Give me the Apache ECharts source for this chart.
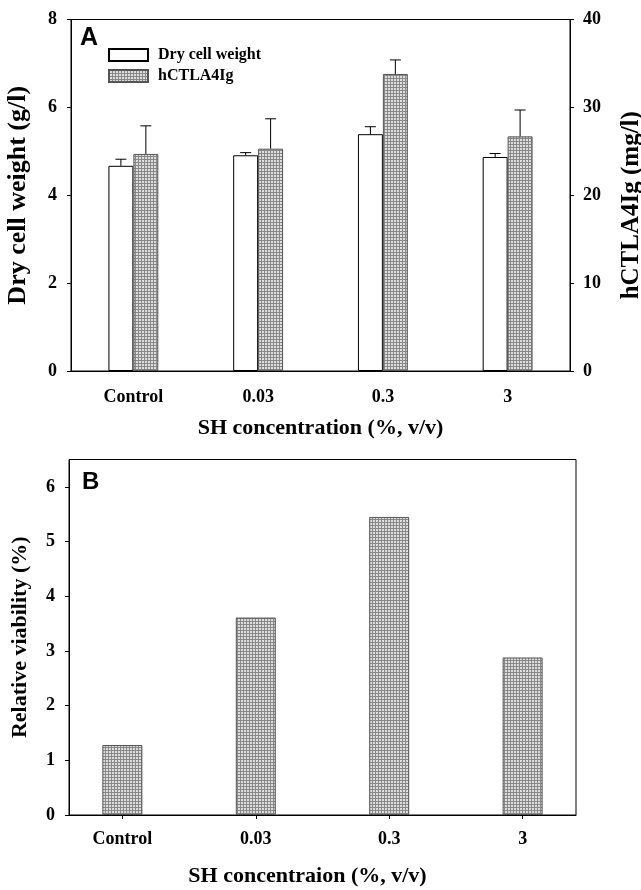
<!DOCTYPE html>
<html><head><meta charset="utf-8">
<script src="https://cdn.jsdelivr.net/npm/echarts@6/dist/echarts.min.js"></script>
<style>html,body{margin:0;padding:0;background:#fff}#c{width:641px;height:890px}</style>
</head><body><div id="c"></div>
<script>
// ---- data ----
const categories = ['Control', '0.03', '0.3', '3'];
const dryCellWeight = [4.67, 4.91, 5.39, 4.87];          // g/l
const dryCellWeightErr = [0.15, 0.06, 0.17, 0.08];
const hCTLA4Ig = [24.7, 25.3, 33.8, 26.7];                // mg/l
const hCTLA4IgErr = [3.2, 3.4, 1.6, 3.0];
const relativeViability = [1.28, 3.61, 5.45, 2.88];       // %
const viabilityTicks = [0, 1, 2, 3, 4, 5, 6];

// ---- styles ----
const SERIF = '"Liberation Serif","DejaVu Serif",serif';
function makePattern() {
  const c = document.createElement('canvas'); c.width = 3; c.height = 3;
  const g = c.getContext('2d');
  g.fillStyle = '#dedede'; g.fillRect(0, 0, 3, 3);
  g.fillStyle = '#888888'; g.fillRect(0, 0, 3, 1); g.fillRect(0, 0, 1, 3);
  return c;
}
const hatch = { image: makePattern(), repeat: 'repeat' };
const lbl = { color: '#000', fontFamily: SERIF, fontWeight: 'bold', fontSize: 18 };
const nameStyle = { color: '#000', fontFamily: SERIF, fontWeight: 'bold', fontSize: 22 };
const blackLine = { color: '#000', width: 1 };

function errRender(side) {
  return function (params, api) {
    const x = api.value(0), v = api.value(1), e = api.value(2);
    const band = api.size([1, 0])[0];
    const p0 = api.coord([x, v]);
    const p1 = api.coord([x, v + e]);
    const cx = p0[0] + side * band * 0.1;
    return {
      type: 'group',
      children: [
        { type: 'line', shape: { x1: cx, y1: p0[1], x2: cx, y2: p1[1] }, style: { stroke: '#000', lineWidth: 1 } },
        { type: 'line', shape: { x1: cx - 5.5, y1: p1[1], x2: cx + 5.5, y2: p1[1] }, style: { stroke: '#000', lineWidth: 1 } }
      ]
    };
  };
}

const chart = echarts.init(document.getElementById('c'), null, { renderer: 'canvas' });
chart.setOption({
  animation: false,
  backgroundColor: '#fff',
  textStyle: { fontFamily: SERIF },
  grid: [
    { left: 71, right: 71, top: 19.5, height: 351.5, outerBoundsMode: 'none', containLabel: false,
      show: true, borderColor: '#000', borderWidth: 1, backgroundColor: 'transparent' },
    { left: 69, right: 65, top: 459.5, height: 355.5, outerBoundsMode: 'none', containLabel: false,
      show: true, borderColor: '#000', borderWidth: 1, backgroundColor: 'transparent' }
  ],
  legend: {
    data: ['Dry cell weight', 'hCTLA4Ig'],
    orient: 'vertical', left: 108, top: 47, padding: 0, icon: 'rect',
    itemWidth: 39, itemHeight: 12, itemGap: 5,
    textStyle: { color: '#000', fontFamily: SERIF, fontWeight: 'bold', fontSize: 16, lineHeight: 16, padding: [0, 0, 0, 5] }
  },
  graphic: [
    { type: 'text', left: 80, top: 26, style: { text: 'A', font: 'bold 25px "Liberation Sans", Arial, sans-serif', fill: '#000' } },
    { type: 'text', left: 82, top: 470, style: { text: 'B', font: 'bold 24px "Liberation Sans", Arial, sans-serif', fill: '#000' } }
  ],
  xAxis: [
    {
      type: 'category', gridIndex: 0, data: categories,
      axisLine: { lineStyle: blackLine },
      axisTick: { alignWithLabel: true, length: 4, lineStyle: blackLine },
      axisLabel: Object.assign({ margin: 17 }, lbl),
      splitLine: { show: false },
      name: 'SH concentration (%, v/v)', nameLocation: 'middle', nameGap: 46, nameTextStyle: nameStyle
    },
    {
      type: 'value', gridIndex: 1, min: -0.4, max: 3.4,
      axisLine: { onZero: false, lineStyle: blackLine },
      axisTick: { length: 4, lineStyle: blackLine, customValues: categories.map((c, i) => i) },
      axisLabel: Object.assign({
        margin: 15, customValues: categories.map((c, i) => i),
        formatter: v => (Number.isInteger(v) && categories[v] !== undefined) ? categories[v] : ''
      }, lbl),
      splitLine: { show: false },
      name: 'SH concentraion (%, v/v)', nameLocation: 'middle', nameGap: 50,
      nameTextStyle: Object.assign({ padding: [0, 30, 0, 0] }, nameStyle)
    }
  ],
  yAxis: [
    {
      type: 'value', gridIndex: 0, position: 'left', min: 0, max: 8, interval: 2,
      axisLine: { show: true, onZero: false, lineStyle: blackLine },
      axisTick: { show: true, length: 4, lineStyle: blackLine },
      axisLabel: Object.assign({ margin: 14 }, lbl),
      splitLine: { show: false },
      name: 'Dry cell weight (g/l)', nameLocation: 'middle', nameGap: 40, nameRotate: 90,
      nameTextStyle: Object.assign({}, nameStyle, { fontSize: 26 })
    },
    {
      type: 'value', gridIndex: 0, position: 'right', min: 0, max: 40, interval: 10,
      axisLine: { show: true, onZero: false, lineStyle: blackLine },
      axisTick: { show: true, length: 4, lineStyle: blackLine },
      axisLabel: Object.assign({ margin: 13 }, lbl),
      splitLine: { show: false },
      name: 'hCTLA4Ig (mg/l)', nameLocation: 'middle', nameGap: 49, nameRotate: 90,
      nameTextStyle: Object.assign({ padding: [0, 20, 0, 0] }, nameStyle, { fontSize: 25 })
    },
    {
      type: 'value', gridIndex: 1, min: 0, max: 6.5, interval: 1,
      axisLine: { show: true, onZero: false, lineStyle: blackLine },
      axisTick: { show: true, length: 4, lineStyle: blackLine, customValues: viabilityTicks },
      axisLabel: Object.assign({ margin: 14, customValues: viabilityTicks }, lbl),
      splitLine: { show: false },
      name: 'Relative viability (%)', nameLocation: 'middle', nameGap: 38, nameRotate: 90,
      nameTextStyle: nameStyle
    }
  ],
  series: [
    {
      type: 'bar', name: 'Dry cell weight', xAxisIndex: 0, yAxisIndex: 0,
      data: dryCellWeight, barWidth: '20%', barGap: '0%',
      itemStyle: { color: '#fff', borderColor: '#000', borderWidth: 1 }
    },
    {
      type: 'bar', name: 'hCTLA4Ig', xAxisIndex: 0, yAxisIndex: 1,
      data: hCTLA4Ig, barWidth: '20%', barGap: '0%',
      itemStyle: { color: hatch, borderColor: '#555', borderWidth: 1 }
    },
    {
      type: 'custom', name: 'dcwErr', xAxisIndex: 0, yAxisIndex: 0, z: 5,
      renderItem: errRender(-1),
      data: dryCellWeight.map((v, i) => [i, v, dryCellWeightErr[i]])
    },
    {
      type: 'custom', name: 'igErr', xAxisIndex: 0, yAxisIndex: 1, z: 5,
      renderItem: errRender(1),
      data: hCTLA4Ig.map((v, i) => [i, v, hCTLA4IgErr[i]])
    },
    {
      type: 'bar', name: 'Relative viability', xAxisIndex: 1, yAxisIndex: 2,
      data: relativeViability.map((v, i) => [i, v]), barWidth: 40,
      itemStyle: { color: hatch, borderColor: '#555', borderWidth: 1 }
    }
  ]
});
</script>
</body></html>
